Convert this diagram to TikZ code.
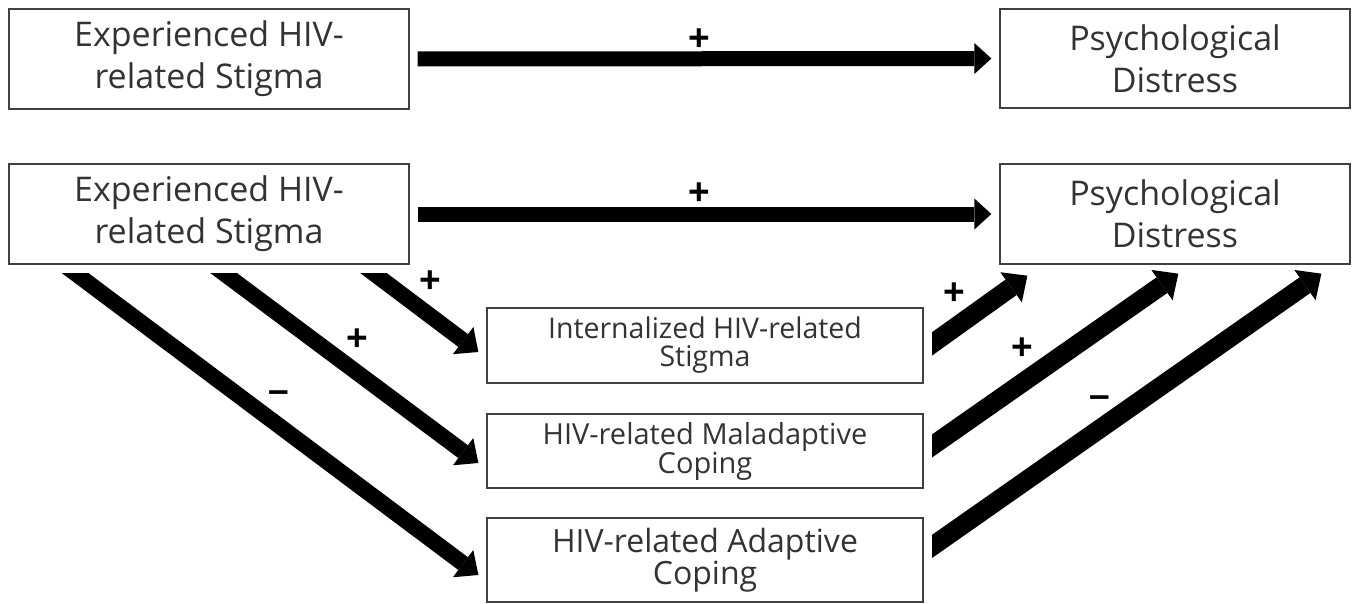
\documentclass[tikz,border=0pt]{standalone}
\usepackage{fontspec}
\setmainfont{Open Sans}
\newfontfamily\signfont{Liberation Sans}
\usetikzlibrary{arrows.meta,calc}
\tikzset{
  concept/.style={draw=black!75,line width=1.3pt,align=center,inner sep=0pt,text=black!80},
  bigbox/.style={concept,minimum height=100pt,font=\fontsize{34}{42}\selectfont},
  midbox/.style={concept,minimum width=436pt},
  bar/.style={line width=15pt,-{Triangle[length=17pt,width=31pt,line width=0pt]}},
  ldiag/.style={line width=16pt,-{Triangle[length=19pt,width=34pt,line width=0pt]}},
  rdiag/.style={line width=19pt,-{Triangle[length=20pt,width=37pt,line width=0pt]}},
  sign/.style={inner sep=0pt,font=\signfont\bfseries\fontsize{37}{37}\selectfont}
}
\begin{document}
\begin{tikzpicture}[x=1pt,y=-1pt]
\path[use as bounding box] (0,0) rectangle (1359,604);

% direct effect
\node[bigbox,minimum width=400pt] (exp1) at (209,59) {Experienced HIV-\\related Stigma};
\node[bigbox,minimum width=350pt,minimum height=99pt] (psy1) at (1175,58.5) {Psychological\\Distress};
\draw[bar] ([xshift=8pt]exp1.east) -- ([xshift=-8pt]psy1.west);
\node[sign] (d1) at (699,40) {+};

% mediation model
\node[bigbox,minimum width=400pt] (exp2) at (209,214) {Experienced HIV-\\related Stigma};
\node[bigbox,minimum width=350pt] (psy2) at (1175,214) {Psychological\\Distress};
\draw[bar] ([xshift=8pt]exp2.east) -- ([xshift=-8pt]psy2.west);
\node[sign] (d2) at (699,194) {+};

\node[midbox,minimum height=75pt,font=\fontsize{28.5}{28}\selectfont] (intern) at (705,345.5) {Internalized HIV-related\\Stigma};
\node[midbox,minimum height=74pt,font=\fontsize{29}{29}\selectfont] (malad) at (705,451) {HIV-related Maladaptive\\Coping};
\node[midbox,minimum height=84pt,font=\fontsize{32}{32}\selectfont] (adapt) at (705,560) {HIV-related Adaptive\\Coping};

\coordinate (sA) at ($(exp2.south west)+(55.5,0)$);
\coordinate (sB) at ($(exp2.south west)+(204,0)$);
\coordinate (sC) at ($(exp2.south west)+(354,0)$);
\begin{scope}
  \clip (0,273) rectangle (1359,604);
  \draw[ldiag] (sA) -- ($(adapt.west)+(-8,15)$);
  \draw[ldiag] (sB) -- ($(malad.west)+(-8,12)$);
  \draw[ldiag] (sC) -- ($(intern.west)+(-8,6.5)$);
\end{scope}
\node[sign] (a1) at (430,282) {+};
\node[sign] (a2) at (357,340) {+};
\node[sign] (a3) at (279,397) {–};

\coordinate (tI) at ($(intern.east)+(0,4.4)$);
\coordinate (tM) at ($(malad.east)+(0,0.8)$);
\coordinate (tA) at ($(adapt.east)+(0,-7.7)$);
\begin{scope}
  \clip (932,0) rectangle (1359,604);
  \draw[rdiag] (tI) -- ($(psy2.south west)+(28,11)$);
  \draw[rdiag] (tM) -- ($(psy2.south west)+(179,9)$);
  \draw[rdiag] (tA) -- ($(psy2.south west)+(322,9)$);
\end{scope}
\node[sign] (b1) at (954,294) {+};
\node[sign] (b2) at (1022,349) {+};
\node[sign] (b3) at (1100,402) {–};
\end{tikzpicture}
\end{document}
